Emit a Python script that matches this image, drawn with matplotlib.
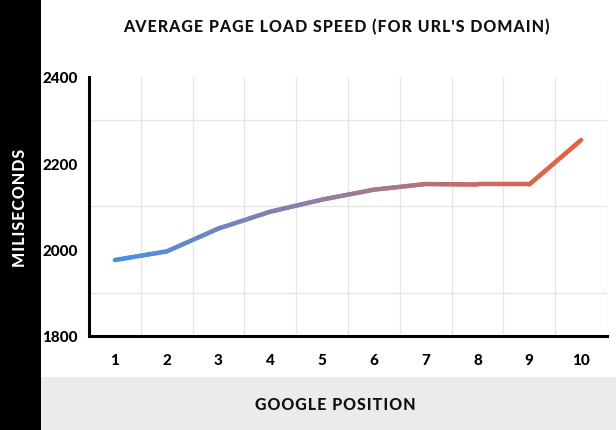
import matplotlib.pyplot as plt
import numpy as np
from matplotlib.collections import LineCollection
from matplotlib.colors import LinearSegmentedColormap
from matplotlib.patches import Rectangle

positions = [1, 2, 3, 4, 5, 6, 7, 8, 9, 10]
load_ms = [1976, 1996, 2049, 2088, 2116, 2139, 2152, 2151, 2151, 2254]
y_ticks = [1800, 2000, 2200, 2400]

title = "AVERAGE PAGE LOAD SPEED (FOR URL'S DOMAIN)"
x_label = "GOOGLE POSITION"
y_label = "MILISECONDS"


def spaced(s):
    # widen tracking a little with hair spaces
    return '\u200a'.join(s)


W, H = 616, 431
fig = plt.figure(figsize=(W / 100, H / 100), dpi=100)
fig.patch.set_facecolor('white')

# side strip and bottom band
fig.patches.append(Rectangle((0, 0), 41 / W, 1, transform=fig.transFigure,
                             facecolor='black', edgecolor='none', zorder=0))
fig.patches.append(Rectangle((41 / W, 0), 1 - 41 / W, 53 / H, transform=fig.transFigure,
                             facecolor='#ebebeb', edgecolor='none', zorder=0))

ax = fig.add_axes([89 / W, 1 - 337 / H, (607 - 89) / W, (337 - 78) / H])
ax.set_xlim(0.5, 10.5)
ax.set_ylim(1800, 2400)

# grid: every half position, every 100 ms
ax.set_xticks(positions)
ax.set_xticks(np.arange(0.5, 10.6, 0.5), minor=True)
ax.set_yticks(y_ticks)
ax.set_yticks(np.arange(1800, 2401, 100), minor=True)
ax.grid(which='minor', color='#e6e6e6', linewidth=1)
ax.tick_params(which='both', length=0)
ax.tick_params(axis='x', pad=12)
ax.tick_params(axis='y', pad=8)
for lab in ax.get_xticklabels() + ax.get_yticklabels():
    lab.set_fontfamily('Lato')
    lab.set_fontweight('black')
    lab.set_fontsize(11)

for s in ['top', 'right']:
    ax.spines[s].set_visible(False)
for s in ['left', 'bottom']:
    ax.spines[s].set_linewidth(2.2)
    ax.spines[s].set_color('black')

# gradient line (blue -> orange)
cmap = LinearSegmentedColormap.from_list('grad', ['#4a90e2', '#9a7c98', '#e8603c'])
xs = np.array(positions, dtype=float)
ys = np.array(load_ms, dtype=float)
fine_x, fine_y = [], []
for i in range(len(xs) - 1):
    t = np.linspace(0, 1, 20, endpoint=False)
    fine_x.extend(xs[i] + (xs[i + 1] - xs[i]) * t)
    fine_y.extend(ys[i] + (ys[i + 1] - ys[i]) * t)
fine_x.append(xs[-1])
fine_y.append(ys[-1])
pts = np.column_stack([fine_x, fine_y]).reshape(-1, 1, 2)
segs = np.concatenate([pts[:-1], pts[1:]], axis=1)
lc = LineCollection(segs, cmap=cmap, linewidth=3.2, capstyle='round', joinstyle='round', zorder=3)
lc.set_array((np.array(fine_x[:-1]) - 1) / 9)
lc.set_clim(0, 1)
ax.add_collection(lc)

fam = ['Lato', 'DejaVu Sans']
fig.text(336 / W, 1 - 27 / H, spaced(title), ha='center', va='center', fontsize=11.5,
         fontfamily=fam, fontweight='black', color='#111111')
fig.text(335 / W, 1 - 405 / H, spaced(x_label), ha='center', va='center', fontsize=11.5,
         fontfamily=fam, fontweight='black', color='#111111')
fig.text(20 / W, 1 - 208 / H, spaced(y_label), ha='center', va='center', rotation=90,
         fontsize=11.5, fontfamily=fam, fontweight='black', color='white')

fig.savefig('out.png', dpi=100)
